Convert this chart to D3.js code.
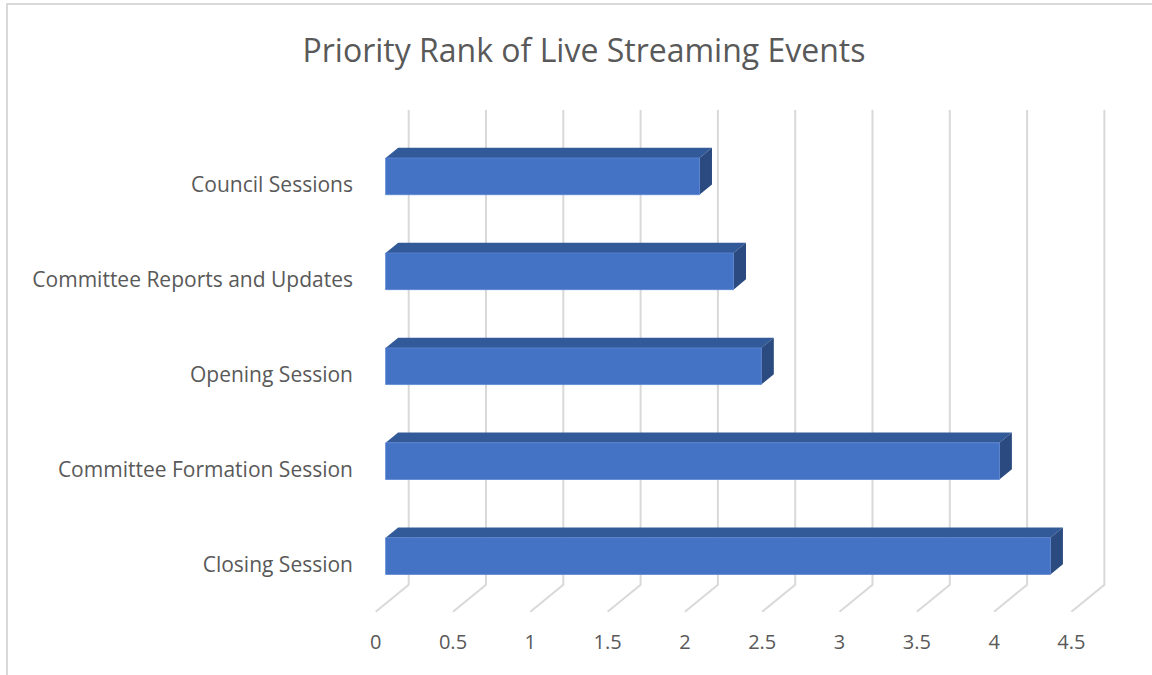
<!DOCTYPE html>
<html>
<head>
<meta charset="utf-8">
<script src="https://cdn.jsdelivr.net/npm/d3@7"></script>
<style>
  body { margin: 0; background: #fff; }
  text { font-family: "Open Sans", Lato, sans-serif; fill: #595959; }
</style>
</head>
<body>
<div id="chart"></div>
<script>
// Priority Rank of Live Streaming Events - 3D style horizontal bars

const categories = ['Council Sessions', 'Committee Reports and Updates', 'Opening Session',
  'Committee Formation Session', 'Closing Session'];
const values = [2.03, 2.25, 2.43, 3.97, 4.30];
const ticks = [0, 0.5, 1, 1.5, 2, 2.5, 3, 3.5, 4, 4.5];

const width = 1152;
const height = 675;

// depth vector of the floor (front -> back)
const depth = { dx: 33, dy: -27 };
const barZ = [0.3, 0.68];   // bar front / back planes within the depth

const svg = d3.select('#chart').append('svg')
  .attr('width', width)
  .attr('height', height);

// chart area border
svg.append('rect')
  .attr('x', 7).attr('y', 4)
  .attr('width', 1200).attr('height', 800)
  .attr('fill', 'none')
  .attr('stroke', '#d9d9d9')
  .attr('stroke-width', 2);

svg.append('text')
  .attr('x', 584).attr('y', 62)
  .attr('text-anchor', 'middle')
  .style('font-size', '32px')
  .text('Priority Rank of Live Streaming Events');

// scales in the front plane
const x = d3.scaleLinear().domain([0, 4.5]).range([375.7, 375.7 + 4.5 * 154.6]);
const y = d3.scaleBand().domain(categories).range([137, 611.7]).paddingInner(0).paddingOuter(0);
const barH = y.bandwidth() * 0.386;

const proj = (v, yy, z) => [x(v) + z * depth.dx, yy + z * depth.dy];

// gridlines: back wall verticals plus floor diagonals
const grid = svg.append('g')
  .attr('fill', 'none')
  .attr('stroke', '#d9d9d9')
  .attr('stroke-width', 2);

grid.selectAll('path')
  .data(ticks)
  .enter().append('path')
  .attr('d', d => {
    const top = proj(d, 137, 1);
    const back = proj(d, 611.7, 1);
    const front = proj(d, 611.7, 0);
    return d3.line()([top, back, front]);
  });

svg.append('g')
  .selectAll('text')
  .data(ticks)
  .enter().append('text')
  .attr('x', d => x(d))
  .attr('y', 649)
  .attr('text-anchor', 'middle')
  .style('font-size', '20px')
  .text(d => d);

// category labels
svg.append('g')
  .selectAll('text')
  .data(categories)
  .enter().append('text')
  .attr('x', 353)
  .attr('y', d => y(d) + y.bandwidth() / 2 + 8)
  .attr('text-anchor', 'end')
  .style('font-size', '21px')
  .text(d => d);

// bars
const bars = svg.append('g')
  .selectAll('g')
  .data(categories.map((c, i) => ({ cat: c, value: values[i] })))
  .enter().append('g');

const yTop = d => y(d.cat) + (y.bandwidth() - barH) / 2;

bars.append('path')   // top face
  .attr('fill', '#335a98')
  .attr('d', d => {
    const t = yTop(d);
    return d3.line()([proj(0, t, barZ[0]), proj(d.value, t, barZ[0]),
      proj(d.value, t, barZ[1]), proj(0, t, barZ[1])]) + 'Z';
  });

bars.append('path')   // side face
  .attr('fill', '#2a4a80')
  .attr('d', d => {
    const t = yTop(d);
    return d3.line()([proj(d.value, t, barZ[0]), proj(d.value, t + barH, barZ[0]),
      proj(d.value, t + barH, barZ[1]), proj(d.value, t, barZ[1])]) + 'Z';
  });

bars.append('path')   // front face
  .attr('fill', '#4472c4')
  .attr('stroke', '#5b85d3')
  .attr('stroke-width', 0.8)
  .attr('d', d => {
    const t = yTop(d);
    return d3.line()([proj(0, t, barZ[0]), proj(d.value, t, barZ[0]),
      proj(d.value, t + barH, barZ[0]), proj(0, t + barH, barZ[0])]) + 'Z';
  });
</script>
</body>
</html>
